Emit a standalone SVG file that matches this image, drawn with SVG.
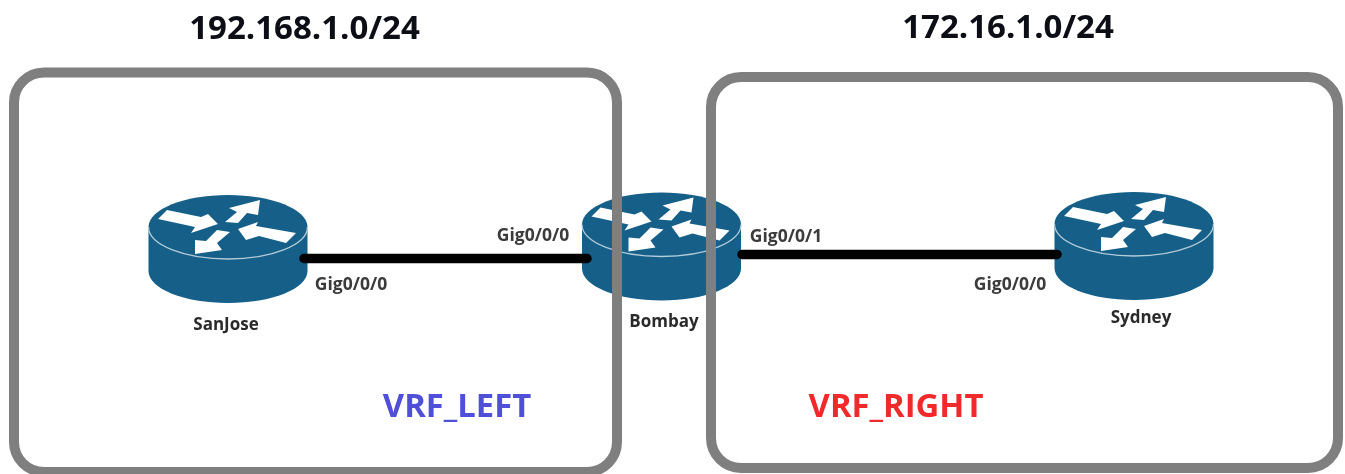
<svg xmlns="http://www.w3.org/2000/svg" width="1345" height="474" viewBox="0 0 1345 474">
<style>
.box{fill:none;stroke:#7f7f7f;stroke-width:10}
.link{stroke:#000;stroke-width:9.500;stroke-linecap:round;fill:none}
text{font-family:"Open Sans","Noto Sans","DejaVu Sans",sans-serif;font-weight:700}
.h{font-size:33px;fill:#0c0c14}
.p{font-size:17.500px;fill:#3a3a3a}
.n{font-size:17px;fill:#2a2a2a}
.v{font-size:32.800px}
.a{fill:#fff}
</style>
<defs>
<filter id="soft" x="-2%" y="-2%" width="104%" height="104%"><feGaussianBlur stdDeviation="0.5"/></filter>
<g id="router">
<path d="M-79.500 0V44C-79.500 61.700-43.900 76 0 76S79.500 61.700 79.500 44V0C79.500 -17.700 43.900 -32 0 -32S-79.500 -17.700-79.500 0Z" fill="#135f89"/>
<path d="M-79.500 0C-79.500 17.700-43.900 32 0 32S79.500 17.700 79.500 0" fill="none" stroke="#b4cbd8" stroke-width="1.300"/>
<polygon class="a" points="-70,-8 -61,-17 -27,-10 -20,-13 -10,-3 -37,6 -33,0"/>
<polygon class="a" points="32,-27 30,-12 19,-14 10,-4 -3,-5 9,-15 1,-19"/>
<polygon class="a" points="10,2 30,-5 28,-1 68,6 58,16 31,9 18,13"/>
<polygon class="a" points="-33,27 -33,13 -22,14 -11,3 2,5 -11,16 -6,23"/>
</g>
</defs>
<g filter="url(#soft)">
<g id="SanJose">
<use href="#router" x="228" y="227"/>
<text class="n" x="226" y="330" text-anchor="middle">SanJose</text>
</g>
<g id="Bombay">
<use href="#router" x="661.500" y="224.500"/>
<text class="n" x="664" y="327" text-anchor="middle">Bombay</text>
</g>
<g id="Sydney">
<use href="#router" x="1134" y="224"/>
<text class="n" x="1141" y="323" text-anchor="middle">Sydney</text>
</g>
<g id="connectors">
<line class="link" x1="304" y1="258.500" x2="587" y2="258.500"/>
<line class="link" x1="742" y1="254.500" x2="1057" y2="254.500"/>
</g>
<g id="VRF_LEFT_box">
<rect class="box" x="14" y="72.500" width="603" height="399.500" rx="30"/>
<text class="v" x="457" y="417" text-anchor="middle" fill="#4f4fd8">VRF_LEFT</text>
<text class="h" x="304.500" y="39" text-anchor="middle">192.168.1.0/24</text>
</g>
<g id="VRF_RIGHT_box">
<rect class="box" x="711" y="77" width="627" height="391" rx="30"/>
<text class="v" x="896" y="417" text-anchor="middle" fill="#f02a2a">VRF_RIGHT</text>
<text class="h" x="1008" y="38" text-anchor="middle">172.16.1.0/24</text>
</g>
<g id="labels">
<text class="p" x="351" y="290" text-anchor="middle">Gig0/0/0</text>
<text class="p" x="533" y="241" text-anchor="middle">Gig0/0/0</text>
<text class="p" x="786" y="242" text-anchor="middle">Gig0/0/1</text>
<text class="p" x="1010" y="290" text-anchor="middle">Gig0/0/0</text>
</g>
</g>
</svg>
